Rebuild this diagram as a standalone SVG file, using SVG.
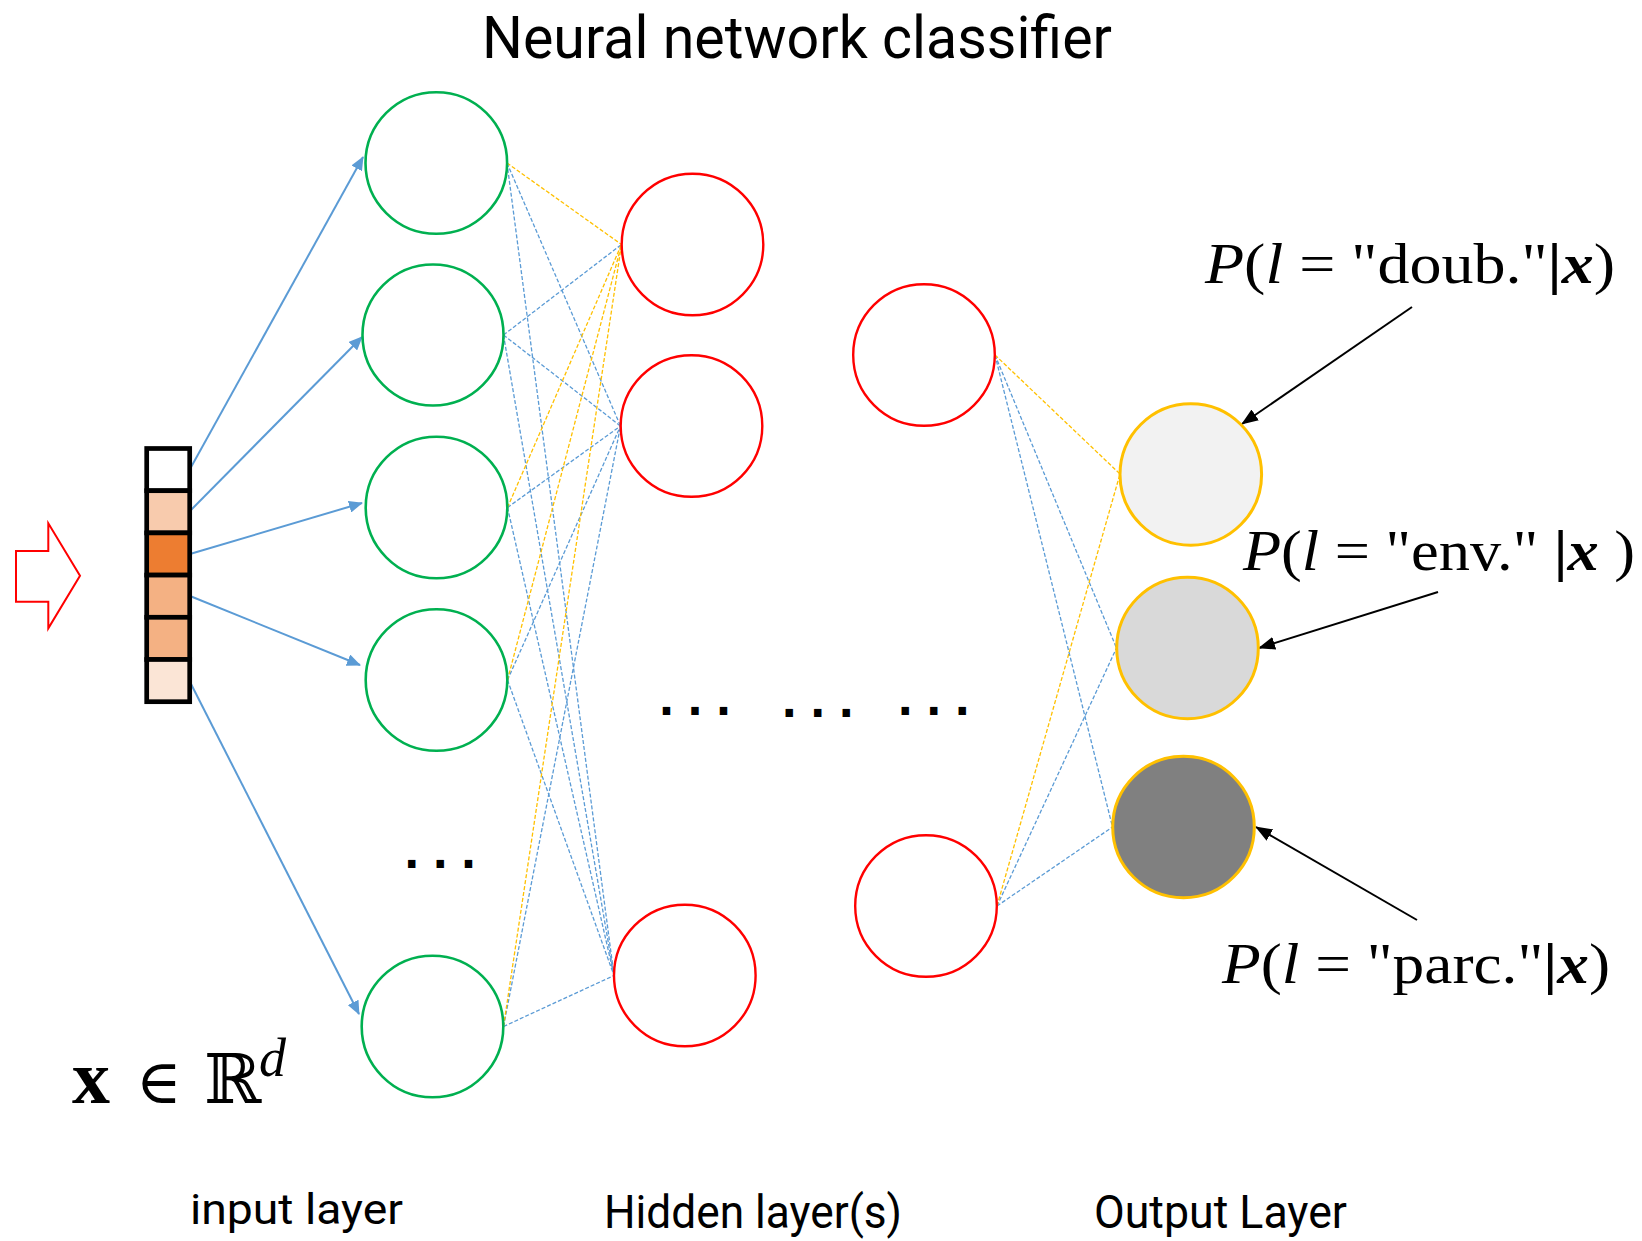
<svg xmlns="http://www.w3.org/2000/svg" width="1642" height="1241" viewBox="0 0 1642 1241">
  <style>
    .green { fill: #FFFFFF; stroke: #00B050; stroke-width: 2.6; }
    .red { fill: #FFFFFF; stroke: #FF0000; stroke-width: 2.4; }
    .out { stroke: #FFC000; stroke-width: 3; }
    .cell { stroke: #000000; stroke-width: 4.7; }
    .feed { stroke: #5B9BD5; stroke-width: 2; fill: none; marker-end: url(#arrowBlue); }
    .wb { stroke: #5B9BD5; stroke-width: 1.3; stroke-dasharray: 4 2; fill: none; }
    .wo { stroke: #FFC000; stroke-width: 1.3; stroke-dasharray: 4 2; fill: none; }
    .ptr { stroke: #000000; stroke-width: 2; fill: none; marker-end: url(#arrowBlack); }
    .label { font-family: Roboto, "Liberation Sans", sans-serif; fill: #000000; }
    .math { font-family: "Liberation Serif", "DejaVu Serif", serif; fill: #000000; }
    .dots { font-family: "DejaVu Sans", sans-serif; font-weight: bold; font-size: 42px; letter-spacing: 12.5px; fill: #000000; }
  </style>
  <defs>
    <marker id="arrowBlue" markerWidth="14" markerHeight="12" refX="13" refY="6" orient="auto" markerUnits="userSpaceOnUse">
      <path d="M0,0 L14,6 L0,12 z" fill="#5B9BD5"/>
    </marker>
    <marker id="arrowBlack" markerWidth="17" markerHeight="13" refX="16" refY="6.5" orient="auto" markerUnits="userSpaceOnUse">
      <path d="M0,0 L17,6.5 L0,13 z" fill="#000000"/>
    </marker>
  </defs>

  <rect width="1642" height="1241" fill="#FFFFFF"/>

  <!-- title -->
  <text class="label" x="482" y="58" font-size="59" textLength="630" lengthAdjust="spacingAndGlyphs">Neural network classifier</text>

  <!-- connectors: input feeds, weights, pointers -->
  <g id="connectors">
    <line class="feed" x1="190" y1="469" x2="363" y2="157"/>
    <line class="feed" x1="190" y1="511" x2="362" y2="337"/>
    <line class="feed" x1="190" y1="554" x2="362" y2="503"/>
    <line class="feed" x1="190" y1="596" x2="360" y2="665"/>
    <line class="feed" x1="190" y1="682" x2="359" y2="1014"/>

    <!-- input layer to first hidden layer -->
    <line class="wb" x1="507" y1="163" x2="620.5" y2="426"/>
    <line class="wb" x1="507" y1="163" x2="614" y2="975.5"/>
    <line class="wb" x1="503.5" y1="335" x2="621.5" y2="244.5"/>
    <line class="wb" x1="503.5" y1="335" x2="620.5" y2="426"/>
    <line class="wb" x1="503.5" y1="335" x2="614" y2="975.5"/>
    <line class="wb" x1="507.5" y1="507.5" x2="620.5" y2="426"/>
    <line class="wb" x1="507.5" y1="507.5" x2="614" y2="975.5"/>
    <line class="wb" x1="507.5" y1="680" x2="620.5" y2="426"/>
    <line class="wb" x1="507.5" y1="680" x2="614" y2="975.5"/>
    <line class="wb" x1="503.5" y1="1026.5" x2="620.5" y2="426"/>
    <line class="wb" x1="503.5" y1="1026.5" x2="614" y2="975.5"/>
    <line class="wo" x1="507" y1="163" x2="621.5" y2="244.5"/>
    <line class="wo" x1="507.5" y1="507.5" x2="621.5" y2="244.5"/>
    <line class="wo" x1="507.5" y1="680" x2="621.5" y2="244.5"/>
    <line class="wo" x1="503.5" y1="1026.5" x2="621.5" y2="244.5"/>

    <!-- last hidden layer to output layer -->
    <line class="wb" x1="995" y1="355" x2="1116.5" y2="648"/>
    <line class="wb" x1="995" y1="355" x2="1112.5" y2="827"/>
    <line class="wb" x1="997" y1="906" x2="1116.5" y2="648"/>
    <line class="wb" x1="997" y1="906" x2="1112.5" y2="827"/>
    <line class="wo" x1="995" y1="355" x2="1120" y2="474"/>
    <line class="wo" x1="997" y1="906" x2="1120" y2="474"/>

    <!-- probability pointers -->
    <line class="ptr" x1="1412" y1="307" x2="1242" y2="424"/>
    <line class="ptr" x1="1438" y1="592" x2="1259" y2="648"/>
    <line class="ptr" x1="1417" y1="920" x2="1256" y2="827"/>
  </g>

  <!-- incoming sample arrow -->
  <g id="sample-arrow">
    <polygon points="16,551 48.3,551 48.3,523.3 80,575.7 48.3,628.3 48.3,601.7 16,601.7" fill="#FFFFFF" stroke="#FF0000" stroke-width="2"/>
  </g>

  <!-- feature vector x -->
  <g id="feature-vector">
    <rect class="cell" x="146.7" y="448.5" width="43" height="42.2" fill="#FFFFFF"/>
    <rect class="cell" x="146.7" y="490.7" width="43" height="42.2" fill="#F8CBAD"/>
    <rect class="cell" x="146.7" y="532.9" width="43" height="42.2" fill="#ED7D31"/>
    <rect class="cell" x="146.7" y="575.1" width="43" height="42.2" fill="#F4B183"/>
    <rect class="cell" x="146.7" y="617.3" width="43" height="42.2" fill="#F4B183"/>
    <rect class="cell" x="146.7" y="659.5" width="43" height="42.2" fill="#FBE5D6"/>
  </g>

  <!-- input layer -->
  <g id="in1"><circle class="green" cx="436.3" cy="163" r="70.8"/></g>
  <g id="in2"><circle class="green" cx="433" cy="335" r="70.5"/></g>
  <g id="in3"><circle class="green" cx="436.5" cy="507.5" r="70.8"/></g>
  <g id="in4"><circle class="green" cx="436.5" cy="680" r="70.8"/></g>
  <g id="in5"><circle class="green" cx="432.5" cy="1026.5" r="70.8"/></g>

  <!-- hidden layers -->
  <g id="h1a"><circle class="red" cx="692.5" cy="244.5" r="70.8"/></g>
  <g id="h1b"><circle class="red" cx="691.5" cy="426" r="70.8"/></g>
  <g id="h1c"><circle class="red" cx="684.8" cy="975.5" r="70.8"/></g>
  <g id="h2a"><circle class="red" cx="924" cy="355" r="70.8"/></g>
  <g id="h2b"><circle class="red" cx="926" cy="906" r="70.8"/></g>

  <!-- output layer -->
  <g id="out1"><circle class="out" cx="1190.8" cy="474.5" r="70.8" fill="#F2F2F2"/></g>
  <g id="out2"><circle class="out" cx="1187.5" cy="648" r="70.8" fill="#D9D9D9"/></g>
  <g id="out3"><circle class="out" cx="1183.5" cy="827" r="70.8" fill="#808080"/></g>

  <!-- ellipses -->
  <text class="dots" x="403.7" y="868">...</text>
  <text class="dots" x="658.6" y="715">...</text>
  <text class="dots" x="781.3" y="717">...</text>
  <text class="dots" x="897.3" y="715">...</text>

  <!-- probability labels -->
  <text class="math" x="1205" y="283" font-size="57" textLength="410" lengthAdjust="spacingAndGlyphs"><tspan font-style="italic">P</tspan>(<tspan font-style="italic">l</tspan> = "doub."<tspan font-weight="bold">|</tspan><tspan font-weight="bold" font-style="italic">x</tspan>)</text>
  <text class="math" x="1243" y="570" font-size="57" textLength="392" lengthAdjust="spacingAndGlyphs"><tspan font-style="italic">P</tspan>(<tspan font-style="italic">l</tspan> = "env." <tspan font-weight="bold">|</tspan><tspan font-weight="bold" font-style="italic">x</tspan> )</text>
  <text class="math" x="1222" y="983" font-size="57" textLength="388" lengthAdjust="spacingAndGlyphs"><tspan font-style="italic">P</tspan>(<tspan font-style="italic">l</tspan> = "parc."<tspan font-weight="bold">|</tspan><tspan font-weight="bold" font-style="italic">x</tspan>)</text>

  <!-- x in R^d -->
  <text class="math" x="72" y="1103" font-size="76" font-weight="bold">x</text>
  <text x="136" y="1103" font-size="62" font-family="DejaVu Serif, serif">∈</text>
  <text x="204" y="1103" font-size="69" font-family="DejaVu Serif, serif">ℝ</text>
  <text class="math" x="259" y="1076" font-size="54" font-style="italic">d</text>

  <!-- layer captions -->
  <text class="label" x="190" y="1224" font-size="42" textLength="213" lengthAdjust="spacingAndGlyphs">input layer</text>
  <text class="label" x="604" y="1228" font-size="47" textLength="298" lengthAdjust="spacingAndGlyphs">Hidden layer(s)</text>
  <text class="label" x="1094" y="1228" font-size="47" textLength="253" lengthAdjust="spacingAndGlyphs">Output Layer</text>
</svg>
